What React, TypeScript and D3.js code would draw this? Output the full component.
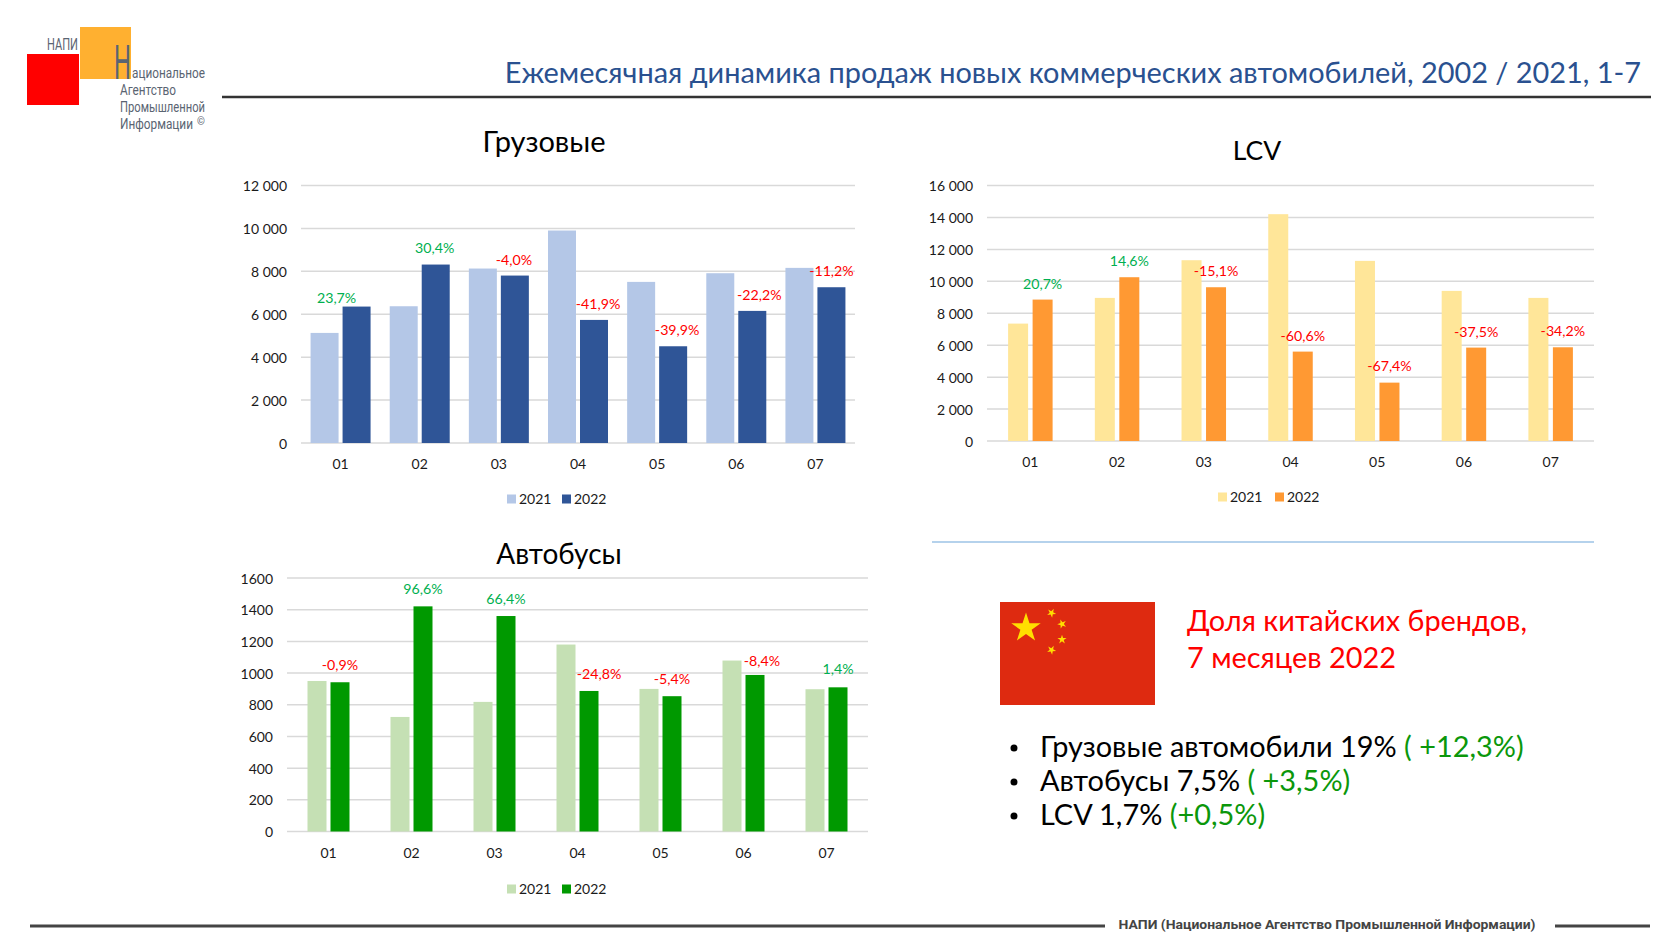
import React from "react";
import * as d3 from "d3";

const months = ["01", "02", "03", "04", "05", "06", "07"];
const trucks2021 = [5130, 6373, 8130, 9902, 7508, 7912, 8161];
const trucks2022 = [6358, 8316, 7803, 5736, 4508, 6156, 7259];
const trucksChange = ["23,7%", "30,4%", "-4,0%", "-41,9%", "-39,9%", "-22,2%", "-11,2%"];
const lcv2021 = [7352, 8961, 11321, 14204, 11279, 9400, 8961];
const lcv2022 = [8856, 10256, 9629, 5598, 3655, 5849, 5869];
const lcvChange = ["20,7%", "14,6%", "-15,1%", "-60,6%", "-67,4%", "-37,5%", "-34,2%"];
const bus2021 = [950, 723, 818, 1180, 900, 1079, 898];
const bus2022 = [942, 1421, 1360, 887, 854, 988, 910];
const busChange = ["-0,9%", "96,6%", "66,4%", "-24,8%", "-5,4%", "-8,4%", "1,4%"];
const trucksTicks = [0, 2000, 4000, 6000, 8000, 10000, 12000];
const lcvTicks = [0, 2000, 4000, 6000, 8000, 10000, 12000, 14000, 16000];
const busTicks = [0, 200, 400, 600, 800, 1000, 1200, 1400, 1600];

const FONT = "Lato, 'Open Sans', 'Noto Sans', sans-serif";
const spaced = (v: number) => String(v).replace(/\B(?=(\d{3})+$)/g, " ");

function star(cx: number, cy: number, r: number, rot = 0) {
  const radial = d3.lineRadial<number>().angle((_, i) => rot + (i * Math.PI) / 5).radius((d) => d);
  return { d: radial(d3.range(10).map((i) => (i % 2 ? r * 0.382 : r)))! + "Z", t: `translate(${cx},${cy})` };
}

type ChartProps = {
  title: string; titleSize: number; titleX: number; titleY: number;
  x0: number; x1: number; yTop: number; yZero: number; max: number; ticks: number[];
  tickFmt: (v: number) => string;
  a: number[]; b: number[]; labels: string[];
  barW: number; gap: number; c1: string; c2: string;
  dx: number[]; dy: number[];
  legendX: number[]; legendY: number; xLabelY: number;
};

function BarChart(p: ChartProps) {
  const x = d3.scaleBand<string>().domain(months).range([p.x0, p.x1]);
  const y = d3.scaleLinear().domain([0, p.max]).range([p.yZero, p.yTop]);
  const offset = p.barW + p.gap / 2;
  return (
    <g fontFamily={FONT}>
      <text x={p.titleX} y={p.titleY} textAnchor="middle" fontSize={p.titleSize} fill="#000">{p.title}</text>
      {p.ticks.map((t) => (
        <g key={t}>
          <line x1={p.x0} x2={p.x1} y1={y(t)} y2={y(t)} stroke="#D9D9D9" strokeWidth={1.5} />
          <text x={p.x0 - 14} y={y(t) + 5.5} textAnchor="end" fontSize={14} fill="#1a1a1a">{p.tickFmt(t)}</text>
        </g>
      ))}
      {months.map((m, i) => {
        const c = x(m)! + x.bandwidth() / 2;
        return (
          <g key={m}>
            <rect x={c - offset} y={y(p.a[i])} width={p.barW} height={p.yZero - y(p.a[i])} fill={p.c1} />
            <rect x={c + p.gap / 2} y={y(p.b[i])} width={p.barW} height={p.yZero - y(p.b[i])} fill={p.c2} />
            <text x={c} y={p.xLabelY} textAnchor="middle" fontSize={14} fill="#1a1a1a">{m}</text>
            <text
              x={c + offset - p.barW / 2 + p.dx[i]}
              y={y(p.b[i]) + p.dy[i] + 5}
              textAnchor="middle"
              fontSize={14.2}
              fill={p.labels[i].startsWith("-") ? "#FF0000" : "#00B050"}
            >
              {p.labels[i]}
            </text>
          </g>
        );
      })}
      {["2021", "2022"].map((s, i) => (
        <g key={s}>
          <rect x={p.legendX[i]} y={p.legendY - 4.5} width={9} height={9} fill={i ? p.c2 : p.c1} />
          <text x={p.legendX[i] + 12} y={p.legendY + 5} fontSize={14} fill="#1a1a1a">{s}</text>
        </g>
      ))}
    </g>
  );
}

const bullets = [
  { y: 757, black: "Грузовые автомобили 19% ", green: "( +12,3%)" },
  { y: 791, black: "Автобусы 7,5% ", green: "( +3,5%)" },
  { y: 825, black: "LCV 1,7% ", green: "(+0,5%)" },
];
const flagStars = [
  star(1026, 628, 15.5),
  star(1051.5, 613, 4.8, 0.5),
  star(1062, 624, 4.8, 0.9),
  star(1062, 639.5, 4.8, 0),
  star(1051.5, 650, 4.8, 0.5),
];

export default function App() {
  return (
    <svg width={1680} height={945} style={{ position: "absolute", left: 0, top: 0, background: "#fff" }}>
      {/* logo */}
      <rect x={27} y={54} width={52} height={51} fill="#FF0000" />
      <rect x={80} y={27} width={51} height={52} fill="#FFB030" />
      <g fontFamily="Roboto, sans-serif" fill="#5A6472">
        <text x={47} y={50} fontSize={16} textLength={31} lengthAdjust="spacingAndGlyphs">НАПИ</text>
        <text x={114} y={79} fontSize={48} textLength={17} lengthAdjust="spacingAndGlyphs">Н</text>
        <text x={132} y={78} fontSize={14} textLength={73} lengthAdjust="spacingAndGlyphs">ациональное</text>
        <text x={120} y={95} fontSize={14} textLength={56} lengthAdjust="spacingAndGlyphs">Агентство</text>
        <text x={120} y={112} fontSize={14} textLength={85} lengthAdjust="spacingAndGlyphs">Промышленной</text>
        <text x={120} y={129} fontSize={14} textLength={73} lengthAdjust="spacingAndGlyphs">Информации</text>
        <text x={197} y={125} fontSize={10}>©</text>
      </g>

      <line x1={222} x2={1651} y1={97} y2={97} stroke="#333" strokeWidth={2.5} />
      <text x={1641} y={83} textAnchor="end" fontFamily={FONT} fontSize={28.9} fill="#2A5190">
        Ежемесячная динамика продаж новых коммерческих автомобилей, 2002 / 2021, 1-7
      </text>

      <BarChart
        title="Грузовые" titleSize={29} titleX={544} titleY={152}
        x0={301} x1={855} yTop={185.5} yZero={443} max={12000} ticks={trucksTicks} tickFmt={spaced}
        a={trucks2021} b={trucks2022} labels={trucksChange}
        barW={28} gap={4} c1="#B4C7E7" c2="#2F5597"
        dx={[-20, -1, -1, 4, 4, 7, 0]} dy={[-9, -17, -16, -16, -16, -16, -16]}
        legendX={[507, 562]} legendY={499} xLabelY={469}
      />
      <BarChart
        title="LCV" titleSize={26.5} titleX={1257} titleY={160}
        x0={987} x1={1594} yTop={185.5} yZero={441} max={16000} ticks={lcvTicks} tickFmt={spaced}
        a={lcv2021} b={lcv2022} labels={lcvChange}
        barW={20} gap={4.5} c1="#FFE699" c2="#FF9933"
        dx={[0, 0, 0, 0, 0, 0, 0]} dy={[-16, -16, -16, -16, -17, -16, -16]}
        legendX={[1218, 1275]} legendY={497} xLabelY={467}
      />
      <BarChart
        title="Автобусы" titleSize={28} titleX={559} titleY={563.5}
        x0={287} x1={868} yTop={578} yZero={831.5} max={1600} ticks={busTicks} tickFmt={String}
        a={bus2021} b={bus2022} labels={busChange}
        barW={19} gap={4} c1="#C5E0B4" c2="#009900"
        dx={[0, 0, 0, 10, 0, 7, 0]} dy={[-17, -17, -17, -17, -17, -14, -18]}
        legendX={[507, 562]} legendY={889} xLabelY={857.5}
      />

      <line x1={932} x2={1594} y1={542} y2={542} stroke="#9DC3E6" strokeWidth={1.5} />

      {/* flag */}
      <rect x={1000} y={602} width={155} height={103} fill="#DE2A10" />
      {flagStars.map((s, i) => (
        <path key={i} d={s.d} transform={s.t} fill="#FFDE00" />
      ))}
      <g fontFamily={FONT} fontSize={28.9}>
        <text x={1187} y={631} fill="#FF0000">Доля китайских брендов,</text>
        <text x={1187} y={668} fill="#FF0000">7 месяцев 2022</text>
        {bullets.map((b) => (
          <g key={b.y}>
            <circle cx={1014} cy={b.y - 9} r={3.5} fill="#000" />
            <text x={1040} y={b.y} fill="#000">
              {b.black}
              <tspan fill="#0B970B">{b.green}</tspan>
            </text>
          </g>
        ))}
      </g>

      {/* footer */}
      <line x1={30} x2={1105} y1={926} y2={926} stroke="#444" strokeWidth={3} />
      <line x1={1555} x2={1650} y1={926} y2={926} stroke="#444" strokeWidth={3} />
      <text x={1118.5} y={929} fontFamily="Roboto, sans-serif" fontWeight={700} fontSize={13} fill="#444" textLength={417} lengthAdjust="spacingAndGlyphs">
        НАПИ (Национальное Агентство Промышленной Информации)
      </text>
    </svg>
  );
}
